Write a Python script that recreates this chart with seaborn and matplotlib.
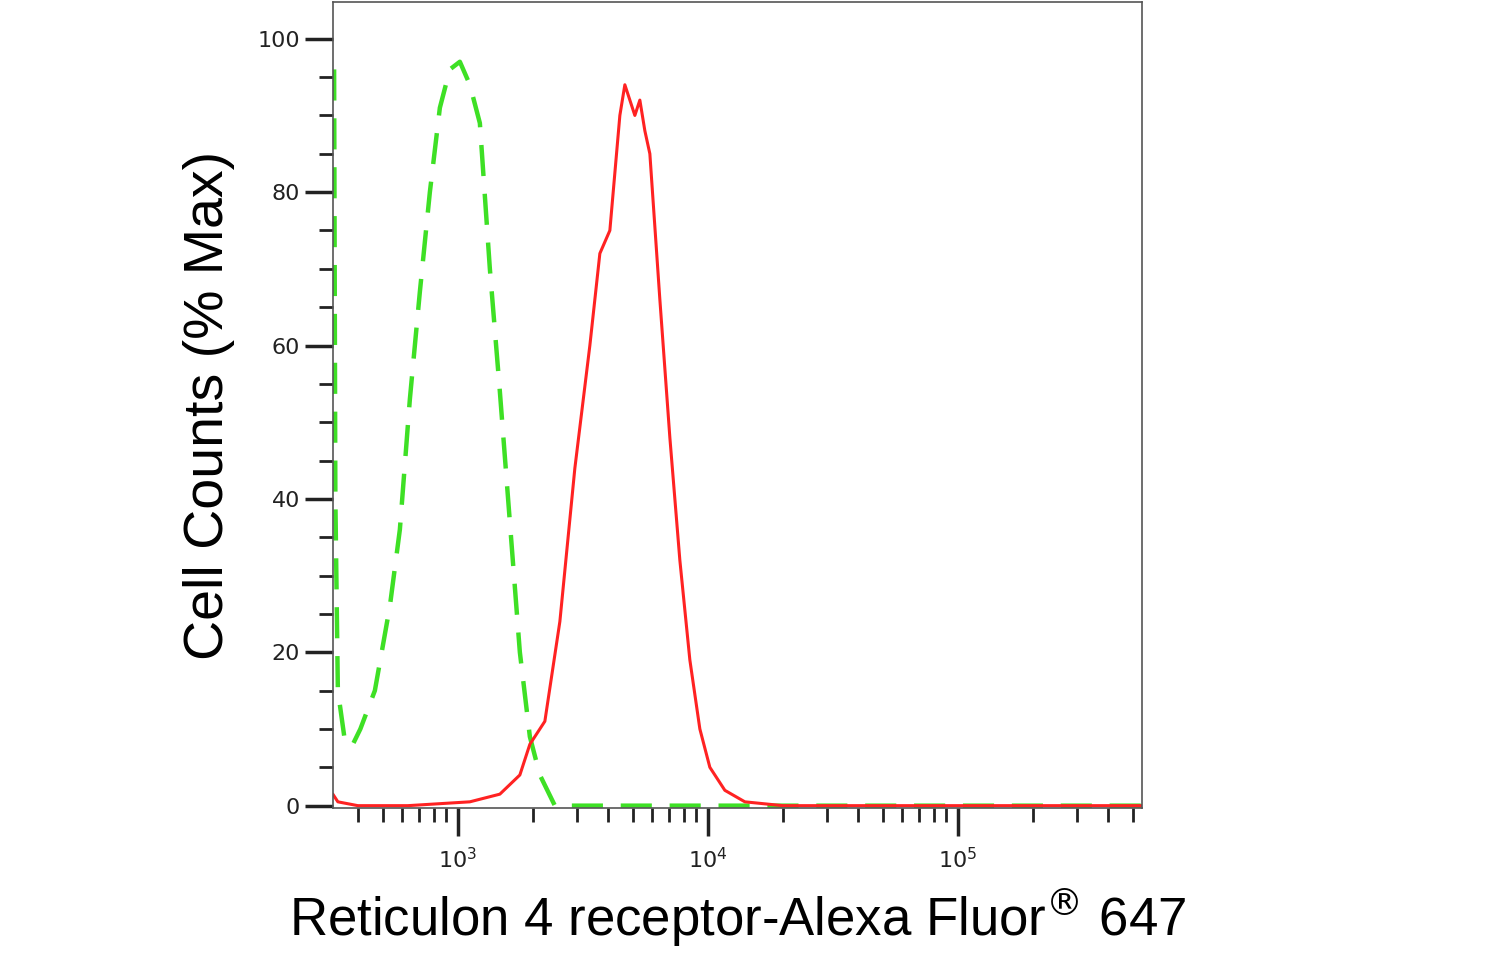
import matplotlib
matplotlib.use("Agg")
import matplotlib.pyplot as plt
import matplotlib.ticker as mticker
import seaborn as sns
import numpy as np

# log10 of fluorescence intensity, and % max
iso_log = [2.505, 2.51, 2.52, 2.55, 2.58, 2.61, 2.668, 2.728, 2.768, 2.808, 2.848, 2.888,
           2.928, 2.968, 3.008, 3.048, 3.088, 3.128, 3.168, 3.208, 3.248, 3.288, 3.328,
           3.388, 3.8, 4.5, 5.74]
iso_pct = [96, 40, 15, 8, 8, 10, 15, 26, 36, 53, 67, 80,
           91, 96, 97, 94, 89, 70, 54, 37, 20, 9, 4,
           0, 0, 0, 0]

ab_log = [2.5, 2.52, 2.6, 2.8, 3.048, 3.168, 3.248, 3.288, 3.348, 3.408, 3.468, 3.528,
          3.568, 3.608, 3.648, 3.668, 3.688, 3.708, 3.728, 3.748, 3.768, 3.808, 3.848,
          3.888, 3.928, 3.968, 4.008, 4.068, 4.148, 4.3, 5.0, 5.74]
ab_pct = [1.5, 0.5, 0, 0, 0.5, 1.5, 4, 8, 11, 24, 44, 60,
          72, 75, 90, 94, 92, 90, 92, 88, 85, 66, 48,
          32, 19, 10, 5, 2, 0.5, 0, 0, 0]

sns.set_style("ticks")
fig = plt.figure(figsize=(14.86, 9.63), dpi=100)
ax = fig.add_axes([0.224, 0.161, 0.5444, 0.837])

sns.lineplot(x=10 ** np.array(iso_log), y=iso_pct, ax=ax, color="#3ee025",
             linewidth=3.2, linestyle=(0, (7, 4)), sort=False)
sns.lineplot(x=10 ** np.array(ab_log), y=ab_pct, ax=ax, color="#ff2222",
             linewidth=2.2, sort=False)

ax.set_xscale("log")
ax.set_xlim(10 ** 2.5, 10 ** 5.736)
ax.set_ylim(-0.3, 104.8)
ax.set_yticks([0, 20, 40, 60, 80, 100])
ax.yaxis.set_minor_locator(mticker.MultipleLocator(5))
ax.set_xticks([1e3, 1e4, 1e5])
ax.set_xticklabels(["10$^3$", "10$^4$", "10$^5$"])
ax.xaxis.set_minor_locator(mticker.LogLocator(base=10, subs=np.arange(2, 10)))
ax.xaxis.set_minor_formatter(mticker.NullFormatter())
ax.tick_params(axis="both", which="major", length=20, width=2.5, labelsize=16,
               labelcolor="#222222", color="#222222")
ax.tick_params(axis="both", which="minor", length=10, width=2, color="#222222")
ax.tick_params(axis="x", which="major", pad=8)
for s in ax.spines.values():
    s.set_color("#555555")
    s.set_linewidth(1.2)

ax.set_ylabel("Cell Counts (% Max)", fontsize=40, family="Liberation Sans",
              color="black", labelpad=16)
ax.set_xlabel("Reticulon 4 receptor-Alexa Fluor$^{®}$ 647", fontsize=38,
              family="Liberation Sans", color="black", labelpad=10)

fig.savefig("out.png", dpi=100)
